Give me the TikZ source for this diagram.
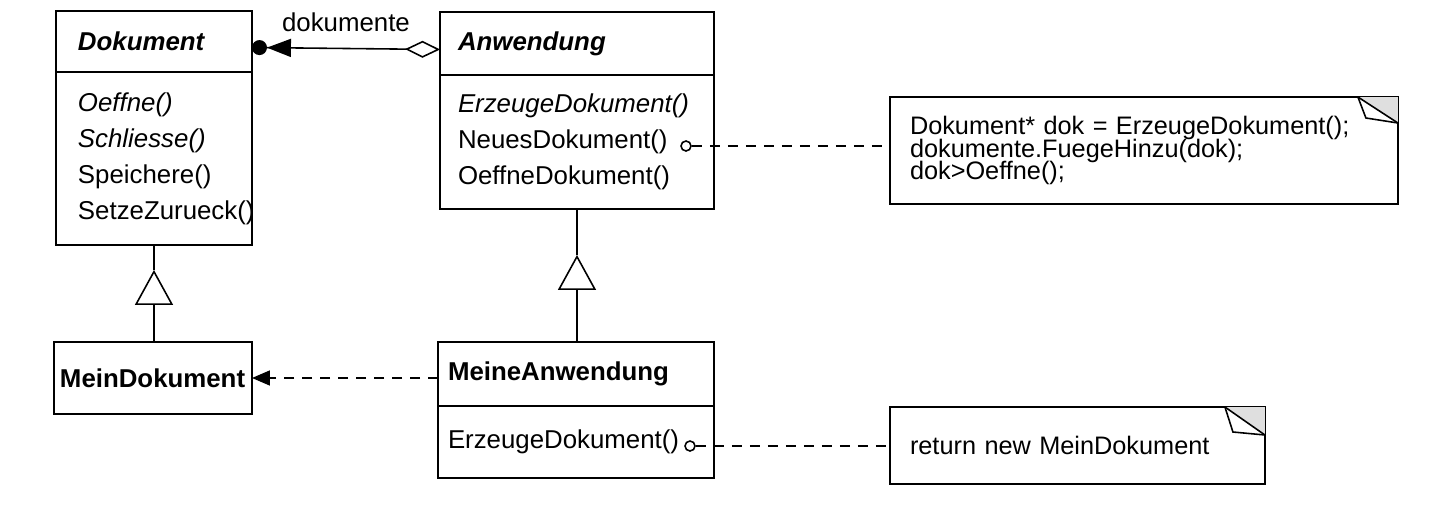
\documentclass[tikz,border=0pt]{standalone}
\usepackage{fontspec}
\setmainfont{Liberation Sans}
\usepackage{tikz}
\usetikzlibrary{shapes,arrows.meta,positioning}

\newcommand{\notetext}{\fontsize{14.4}{13}\selectfont\lineskiplimit=-100pt\relax}

\begin{document}
\begin{tikzpicture}[
    x=0.02cm, y=-0.02cm,
    line width=0.9pt,
    font=\fontsize{14.7}{20.5}\selectfont,
    cls/.style={rectangle, draw, anchor=north west, align=left, inner ysep=0pt, outer sep=0pt},
    ops/.style={rectangle, draw, align=left, inner ysep=0pt, outer sep=0pt},
    note/.style={rectangle, draw, anchor=north west, align=left, inner xsep=0.4cm, outer sep=0pt, text width=#1, font=\notetext},
    port/.style={circle, draw, inner sep=0pt, minimum size=0.2cm},
    assoc/.style={{Diamond[open, length=0.7cm, width=0.34cm]}-{Triangle[length=0.48cm, width=0.36cm] Circle[length=0.3cm]}},
    gen/.style={-{Triangle[open, length=0.7cm, width=0.76cm]}},
    dep/.style={dash pattern=on 0.2cm off 0.16cm, -{Triangle[length=0.36cm, width=0.3cm]}},
    notelink/.style={dash pattern=on 0.2cm off 0.16cm}
]
\useasboundingbox (0,0) rectangle (1434,504);

% classes
\node[cls, text width=3.04cm, inner xsep=0.44cm, minimum height=1.22cm] (dok) at (56,11) {\textbf{\textit{Dokument}}};
\node[ops, text width=3.04cm, inner xsep=0.44cm, minimum height=3.46cm, below=0cm of dok] (dokops)
    {\textit{Oeffne()}\\ \textit{Schliesse()}\\ Speichere()\\ SetzeZurueck()};
\node[cls, text width=4.76cm, inner xsep=0.36cm, minimum height=1.26cm] (anw) at (440,12) {\textbf{\textit{Anwendung}}};
\node[ops, text width=4.76cm, inner xsep=0.36cm, minimum height=2.68cm, below=0cm of anw] (anwops)
    {\textit{ErzeugeDokument()}\\ NeuesDokument()\\ OeffneDokument()};
\node[cls, text width=3.72cm, inner xsep=0.12cm, minimum height=1.44cm] (mdok) at (54,342) {\textbf{MeinDokument}};
\node[cls, text width=5.12cm, inner xsep=0.2cm, minimum height=1.28cm] (manw) at (438,342) {\textbf{MeineAnwendung}};
\node[ops, text width=5.12cm, inner xsep=0.2cm, minimum height=1.44cm, below=0cm of manw] (manwops) {ErzeugeDokument()};

% notes
\node[note=9.36cm, minimum height=2.14cm] (note1) at (890,97)
    {Dokument* dok = ErzeugeDokument();\\ dokumente.FuegeHinzu(dok);\\ dok>Oeffne();};
\node[note=6.7cm, minimum height=1.54cm] (note2) at (890,407) {return new MeinDokument};
\fill[gray!25] ([xshift=-0.8cm]note1.north east) -- (note1.north east) -- ([yshift=-0.52cm]note1.north east) -- cycle;
\draw ([xshift=-0.8cm]note1.north east) -- ([yshift=-0.52cm]note1.north east);
\draw ([xshift=-0.8cm]note1.north east) -- ([xshift=-0.64cm, yshift=-0.42cm]note1.north east) -- ([yshift=-0.52cm]note1.north east);
\fill[gray!25] ([xshift=-0.8cm]note2.north east) -- (note2.north east) -- ([yshift=-0.56cm]note2.north east) -- cycle;
\draw ([xshift=-0.8cm]note2.north east) -- ([yshift=-0.56cm]note2.north east);
\draw ([xshift=-0.8cm]note2.north east) -- ([xshift=-0.64cm, yshift=-0.5cm]note2.north east) -- ([yshift=-0.56cm]note2.north east);

% ports
\node[port] (nd) at (686,146) {};
\node[port] (ed) at (690,446) {};

% connectors
\draw[assoc] ([yshift=-0.12cm]anw.west) -- node[above=6pt] {dokumente} ([yshift=-0.12cm]dok.east);
\coordinate (gen1) at ([yshift=-0.5cm]dokops.south);
\draw[gen] (mdok.north -| gen1) -- (gen1);
\draw (gen1) -- (dokops.south);
\coordinate (gen2) at ([yshift=-0.92cm]anwops.south);
\draw[gen] (manw.north -| gen2) -- (gen2);
\draw (gen2) -- (anwops.south);
\draw[dep] (manw.west |- mdok.east) -- (mdok.east);
\draw[notelink] (nd) -- (nd -| note1.west);
\draw[notelink] (ed) -- (ed -| note2.west);
\end{tikzpicture}
\end{document}
